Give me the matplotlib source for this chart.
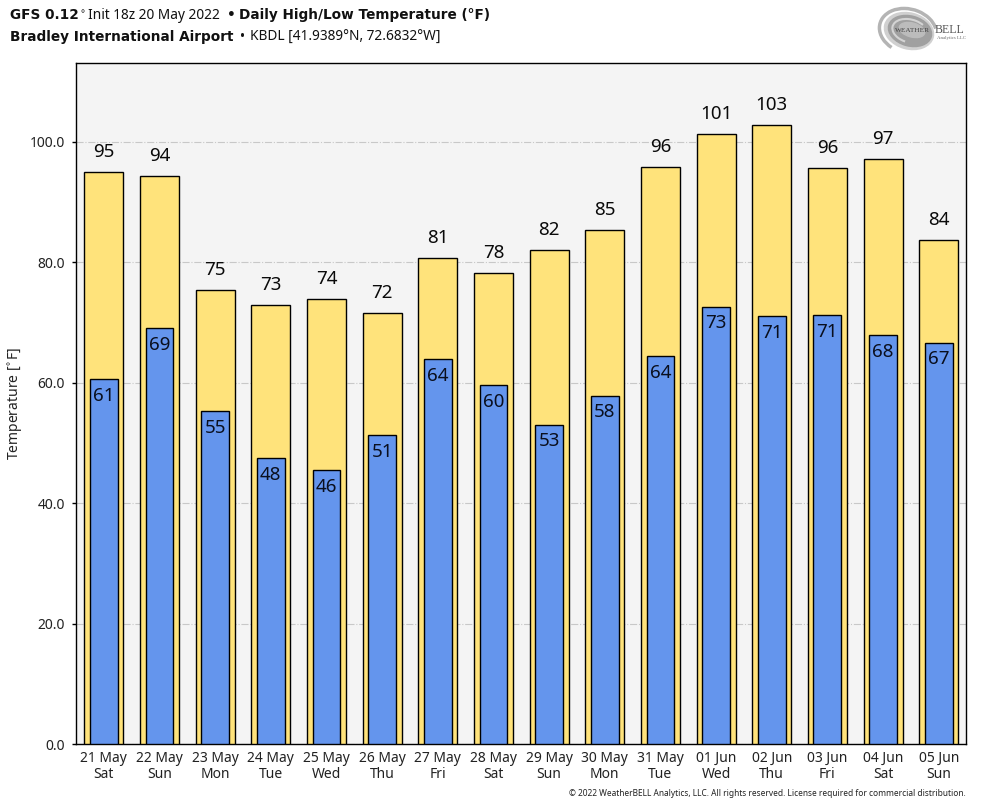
import matplotlib
matplotlib.use("Agg")
import matplotlib.pyplot as plt
from matplotlib.patches import Arc, Ellipse
import numpy as np

plt.rcParams["font.family"] = ["Noto Sans", "DejaVu Sans"]

days = ["21 May\nSat", "22 May\nSun", "23 May\nMon", "24 May\nTue", "25 May\nWed", "26 May\nThu",
        "27 May\nFri", "28 May\nSat", "29 May\nSun", "30 May\nMon", "31 May\nTue", "01 Jun\nWed",
        "02 Jun\nThu", "03 Jun\nFri", "04 Jun\nSat", "05 Jun\nSun"]
highs = [94.9, 94.3, 75.4, 72.9, 73.9, 71.5, 80.6, 78.2, 82.0, 85.3, 95.8, 101.2, 102.7, 95.6, 97.1, 83.7]
lows = [60.6, 69.0, 55.3, 47.5, 45.5, 51.3, 63.9, 59.6, 53.0, 57.8, 64.4, 72.6, 71.0, 71.2, 67.9, 66.6]
yticks = [0, 20, 40, 60, 80, 100]

x = np.arange(len(days))

fig = plt.figure(figsize=(9.84, 8.08), dpi=100)
ax = fig.add_axes([76 / 984, 1 - 744 / 808, 890 / 984, 681 / 808])
ax.set_facecolor("#f4f4f4")

ax.bar(x, highs, width=0.7, color="#ffe37b", edgecolor="black", linewidth=1, zorder=3)
ax.bar(x, lows, width=0.5, color="#6495ed", edgecolor="black", linewidth=1, zorder=4)

for xi, hi, lo in zip(x, highs, lows):
    ax.annotate(f"{hi:.0f}", (xi, hi), xytext=(0, 8), textcoords="offset points",
                ha="center", va="bottom", fontsize=13.5, color="#0a0a0a", zorder=5)
    ax.annotate(f"{lo:.0f}", (xi, lo), xytext=(0, -5.5), textcoords="offset points",
                ha="center", va="top", fontsize=13.5, color="#0a0f1e", zorder=5)

ax.set_xlim(-0.5, 15.49)
ax.set_ylim(0, 113.05)
ax.set_xticks(x)
ax.set_xticklabels(days, fontsize=10, linespacing=1.1, color="#222222")
ax.set_yticks(yticks)
ax.set_yticklabels([f"{v:.1f}" for v in yticks], fontsize=10, color="#222222")
ax.tick_params(axis="x", length=0, pad=5)
ax.tick_params(axis="y", length=3, width=1, pad=5)
ax.grid(axis="y", color="#c8c8c8", linestyle="-.", linewidth=0.8, zorder=0)
ax.set_axisbelow(True)
ax.set_ylabel("Temperature [$^{\\circ}$F]", fontsize=10, labelpad=3, color="#222222")
for spine in ax.spines.values():
    spine.set_linewidth(1)


def title_run(px, py, s, bold=False):
    fig.text(px / 984, 1 - py / 808, s, fontsize=9.85, va="baseline", ha="left",
             family="DejaVu Sans" if bold else "Noto Sans",
             fontweight="bold" if bold else "normal", color="#111111")


title_run(10, 19, "GFS 0.12", bold=True)
title_run(79, 19, "$^{\\circ}$")
title_run(88, 19, "Init 18z 20 May 2022")
title_run(227, 19, "•", bold=True)
title_run(239, 19, "Daily High/Low Temperature (°F)", bold=True)
title_run(10, 41, "Bradley International Airport", bold=True)
title_run(240, 41, "•")
title_run(250, 41, "KBDL [41.9389°N, 72.6832°W]")

fig.text(966 / 984, 1 - 794 / 808, "© 2022 WeatherBELL Analytics, LLC. All rights reserved. License required for commercial distribution.",
         fontsize=6, ha="right", va="center", color="#222222")

# logo, roughly redrawn
logo = fig.add_axes([876 / 984, 1 - 56 / 808, 92 / 984, 50 / 808])
logo.set_xlim(876, 968)
logo.set_ylim(56, 6)
logo.axis("off")
logo.add_patch(Arc((908, 31), 58, 44, angle=15, theta1=120, theta2=340, color="#b4b4b4", linewidth=2.5))
logo.add_patch(Ellipse((909, 31), 50, 36, angle=15, color="#d0d0d0"))
logo.add_patch(Ellipse((910, 31), 44, 30, angle=15, color="#a0a0a0"))
logo.add_patch(Arc((910, 31), 36, 23, angle=15, theta1=100, theta2=320, color="#d4d4d4", linewidth=1.5))
logo.add_patch(Ellipse((912, 30), 26, 14, angle=15, color="#bcbcbc"))
logo.text(895, 31, "WEATHER", fontsize=5.2, family="Liberation Serif", color="#444444", ha="left", va="center")
logo.text(935, 30, "BELL", fontsize=8.5, family="Liberation Serif", color="#555555", ha="left", va="center")
logo.text(966, 38, "Analytics LLC", fontsize=3.5, family="Liberation Serif", color="#666666", ha="right", va="center")

fig.savefig("out.png", dpi=100)
